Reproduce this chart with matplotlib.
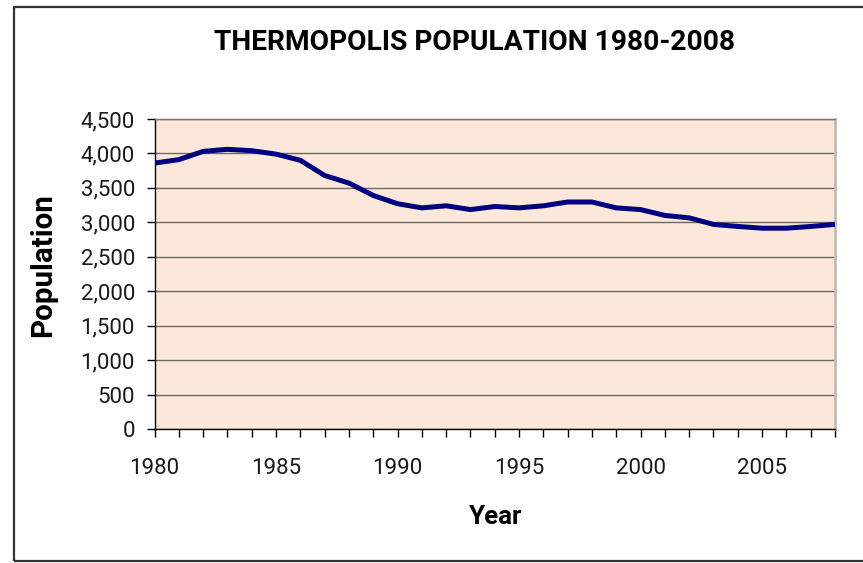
import matplotlib
matplotlib.use("Agg")
import matplotlib.pyplot as plt
from matplotlib.patches import Rectangle
from matplotlib.ticker import MultipleLocator, FuncFormatter

years = list(range(1980, 2009))
population = [3860, 3910, 4030, 4060, 4040, 3990, 3900, 3680, 3570, 3390,
              3270, 3210, 3240, 3185, 3230, 3210, 3240, 3295, 3295, 3210,
              3185, 3100, 3065, 2970, 2940, 2915, 2915, 2940, 2970]
title = "THERMOPOLIS POPULATION 1980-2008"
xlabel = "Year"
ylabel = "Population"
yticks = [0, 500, 1000, 1500, 2000, 2500, 3000, 3500, 4000, 4500]

plt.rcParams["font.family"] = ["Roboto", "DejaVu Sans"]
plt.rcParams["xtick.labelsize"] = 16
plt.rcParams["ytick.labelsize"] = 16

W, H = 863, 563
fig = plt.figure(figsize=(W / 100, H / 100), dpi=100)
fig.patch.set_facecolor("white")

def fx(px):
    return px / W

def fy(py):
    return 1 - py / H

# outer chart frame
fig.patches.append(Rectangle((fx(14), fy(561)), fx(870) - fx(14), fy(7) - fy(561),
                             transform=fig.transFigure, fill=False,
                             edgecolor="#333333", linewidth=1.6))

left, right, top, bottom = 154.5, 835, 119, 429
ax = fig.add_axes([fx(left), fy(bottom), fx(right) - fx(left), fy(top) - fy(bottom)])
ax.set_facecolor("#FCE8DA")

ax.plot(years, population, color="#000080", linewidth=3.6, solid_capstyle="butt",
        solid_joinstyle="round", zorder=3)

ax.set_xlim(1980, 2008)
ax.set_ylim(0, 4500)
ax.set_yticks(yticks)
ax.yaxis.set_major_formatter(FuncFormatter(lambda v, p: f"{int(v):,}"))
ax.xaxis.set_major_locator(MultipleLocator(5))
ax.xaxis.set_minor_locator(MultipleLocator(1))

ax.grid(axis="y", color="#6f6a66", linewidth=1.0, zorder=1)
ax.set_axisbelow(True)

ax.spines["top"].set_color("#7a7470")
ax.spines["top"].set_linewidth(1.0)
ax.spines["right"].set_color("#c0bcb8")
ax.spines["right"].set_linewidth(2.0)
ax.spines["left"].set_color("black")
ax.spines["bottom"].set_color("black")
ax.spines["left"].set_linewidth(1.0)
ax.spines["bottom"].set_linewidth(1.0)

ax.tick_params(axis="y", which="major", length=6, width=1, direction="out",
               pad=8, labelsize=16, labelcolor="#1a1a1a")
ax.tick_params(axis="x", which="major", length=6, width=1, direction="out",
               pad=15, labelsize=16, labelcolor="#1a1a1a")
ax.tick_params(axis="x", which="minor", length=6, width=1, direction="out")

lab_font = ["Roboto", "DejaVu Sans"]
t_title = fig.text(fx(475), fy(43), title, ha="center", va="center", fontsize=20,
                   fontweight="bold", family=lab_font)
t_x = fig.text(fx(496), fy(517), xlabel, ha="center", va="center", fontsize=20,
               fontweight="bold", family=lab_font)
t_y = fig.text(fx(43), fy(265), ylabel, ha="center", va="center", fontsize=20,
               fontweight="bold", family=lab_font, rotation=90)

# fit label sizes to the reference extents (pixels)
fig.canvas.draw()
r = fig.canvas.get_renderer()
for t, target, use_h in [(t_title, 520, False), (t_x, 53, False), (t_y, 143, True)]:
    bb = t.get_window_extent(r)
    cur = bb.height if use_h else bb.width
    t.set_fontsize(t.get_fontsize() * target / cur)

fig.savefig("out.png", dpi=100, facecolor="white")
